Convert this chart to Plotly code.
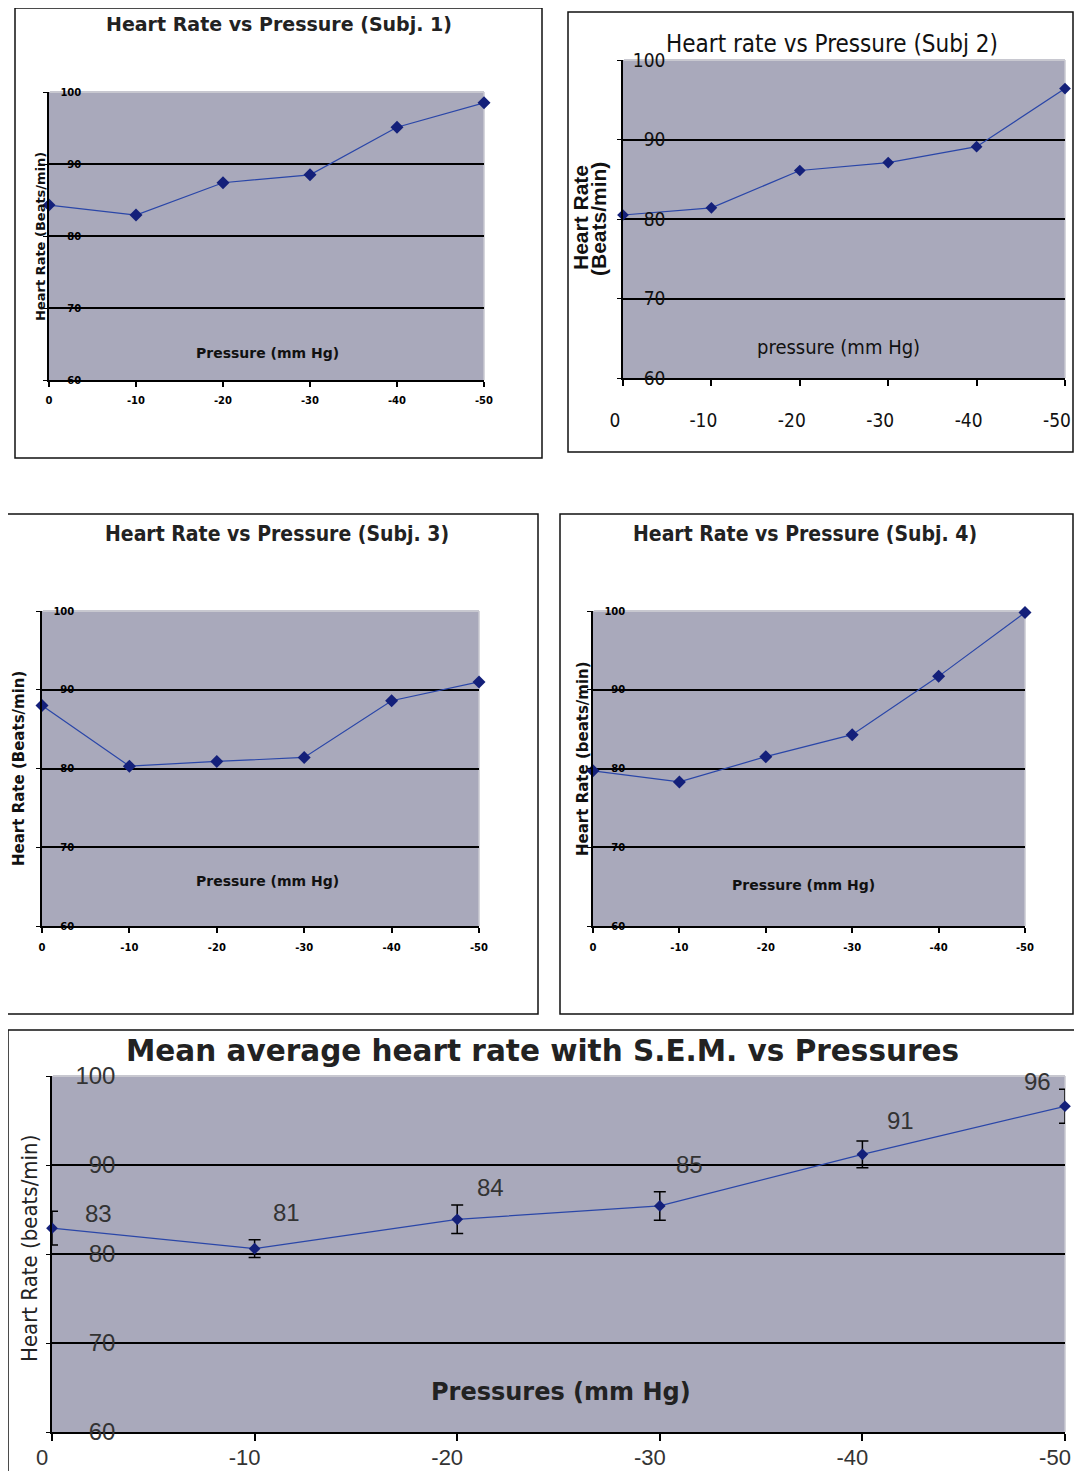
import plotly.graph_objects as go

# ---------------- data ----------------
pressure = [0, -10, -20, -30, -40, -50]
subj1_hr = [84.3, 82.9, 87.4, 88.5, 95.1, 98.5]
subj2_hr = [80.5, 81.4, 86.1, 87.1, 89.1, 96.4]
subj3_hr = [88.0, 80.3, 80.9, 81.4, 88.6, 91.0]
subj4_hr = [79.7, 78.3, 81.5, 84.3, 91.7, 99.8]
mean_hr = [82.9, 80.6, 83.9, 85.4, 91.2, 96.6]
mean_sem = [1.9, 1.0, 1.6, 1.6, 1.5, 1.9]
mean_labels = ["83", "81", "84", "85", "91", "96"]
y_ticks = [60, 70, 80, 90, 100]
y_tick_labels = ["60", "70", "80", "90", "100"]
x_ticks = [0, -10, -20, -30, -40, -50]
x_tick_labels = ["0", "-10", "-20", "-30", "-40", "-50"]

titles = [
    "Heart Rate vs Pressure (Subj. 1)",
    "Heart rate vs Pressure (Subj 2)",
    "Heart Rate vs Pressure (Subj. 3)",
    "Heart Rate vs Pressure (Subj. 4)",
    "Mean average heart rate with S.E.M. vs Pressures",
]

# ---------------- page geometry ----------------
PAGE_W, PAGE_H = 1082, 1479
BODY = 8  # default body margin of the html page
FW, FH = PAGE_W - BODY, PAGE_H - 2 * BODY


def px(x):
    return (x - BODY) / FW


def py(y):
    return 1 - (y - BODY) / FH


ylab_padded = [s.rjust(3, "\u2007") for s in y_tick_labels]

PLOT_BG = "#a9a9bb"
LINE_C = "#2a46a8"
MARK_C = "#14207a"

BOLD = "DejaVu Sans"
COND = "DejaVu Sans Condensed, Liberation Sans Narrow, Liberation Sans"
ARIAL = "Liberation Sans, Arial"

boxes = [
    (49, 484, 92, 380),
    (623, 1065, 60, 378),
    (42, 479, 611, 926),
    (593, 1025, 611, 926),
    (52, 1065, 1076, 1432),
]
frames = [
    (15, 542, 8, 458),
    (568, 1073, 12, 452),
    (5, 538, 514, 1014),
    (560, 1073, 514, 1014),
    (8, 1095, 1030, 1495),
]

fig = go.Figure()

series = [subj1_hr, subj2_hr, subj3_hr, subj4_hr]
for i, hr in enumerate(series):
    fig.add_trace(go.Scatter(
        x=pressure, y=hr, mode="lines+markers",
        xaxis="x" if i == 0 else f"x{i+1}",
        yaxis="y" if i == 0 else f"y{i+1}",
        line=dict(color=LINE_C, width=1.2),
        marker=dict(symbol="diamond", size=10 if i != 1 else 9, color=MARK_C),
        cliponaxis=False, showlegend=False,
    ))

fig.add_trace(go.Scatter(
    x=pressure, y=mean_hr, mode="lines+markers",
    xaxis="x5", yaxis="y5",
    line=dict(color=LINE_C, width=1.2),
    marker=dict(symbol="diamond", size=9, color=MARK_C),
    error_y=dict(type="data", array=mean_sem, visible=True,
                 color="black", thickness=1.5, width=6),
    cliponaxis=False, showlegend=False,
))

small_tick = dict(family=BOLD, size=10, color="black", weight="bold")
# reversed x axes: a positive ticklabelshift moves labels to the left on screen
axis_styles = [
    dict(xfont=small_tick, yfont=small_tick, xstand=5, ystand=-40, ticklen=5, xshift=0),
    dict(xfont=dict(family=COND, size=19, color="#111"),
         yfont=dict(family=COND, size=19, color="#111"), xstand=18, ystand=-52,
         ticklen=6, xshift=8),
    dict(xfont=small_tick, yfont=small_tick, xstand=6, ystand=-40, ticklen=5, xshift=0),
    dict(xfont=small_tick, yfont=small_tick, xstand=6, ystand=-40, ticklen=5, xshift=0),
    dict(xfont=dict(family=ARIAL, size=22, color="#333"),
         yfont=dict(family=ARIAL, size=24, color="#333"), xstand=-2, ystand=-74,
         ticklen=7, xshift=10),
]

layout = dict(
    width=FW, height=FH, autosize=False,
    margin=dict(l=0, r=0, t=0, b=0, autoexpand=False),
    paper_bgcolor="white",
    plot_bgcolor=PLOT_BG,
    showlegend=False,
)

for i, (b, st) in enumerate(zip(boxes, axis_styles)):
    x0, x1, y0, y1 = b
    sfx = "" if i == 0 else str(i + 1)
    layout["xaxis" + sfx] = dict(
        domain=[px(x0), px(x1)], anchor="y" + sfx,
        range=[0, -50], tickvals=x_ticks, ticktext=x_tick_labels,
        showline=True, linecolor="black", linewidth=1.5,
        ticks="outside", ticklen=st["ticklen"], tickcolor="black", tickwidth=1.5,
        showgrid=False, zeroline=False, tickfont=st["xfont"],
        ticklabelstandoff=st["xstand"], ticklabelshift=st["xshift"],
        ticklabeloverflow="allow", fixedrange=True, automargin=False,
    )
    layout["yaxis" + sfx] = dict(
        domain=[py(y1), py(y0)], anchor="x" + sfx,
        range=[60, 100], tickvals=y_ticks, ticktext=ylab_padded,
        showline=True, linecolor="black", linewidth=1.5,
        ticks="outside", ticklen=4, tickcolor="black", tickwidth=1.2,
        showgrid=True, gridcolor="black", gridwidth=1.5,
        zeroline=False, tickfont=st["yfont"], ticklabelposition="outside",
        ticklabelstandoff=st["ystand"], ticklabeloverflow="allow",
        fixedrange=True, automargin=False,
    )

shapes = []
for (x0, x1, y0, y1) in frames:
    shapes.append(dict(type="rect", xref="paper", yref="paper",
                       x0=px(x0), x1=px(x1), y0=py(y1), y1=py(y0),
                       line=dict(color="#111", width=1.5), layer="below"))
for (x0, x1, y0, y1) in boxes:
    shapes.append(dict(type="line", xref="paper", yref="paper",
                       x0=px(x0 + 1), x1=px(x1), y0=py(y0), y1=py(y0),
                       line=dict(color="#c8c8d0", width=2), layer="between"))
    shapes.append(dict(type="line", xref="paper", yref="paper",
                       x0=px(x1), x1=px(x1), y0=py(y1), y1=py(y0),
                       line=dict(color="#c8c8d0", width=1.5), layer="between"))
layout["shapes"] = shapes

ann = []
title_specs = [
    (279, 24, dict(family=BOLD, size=19, color="#222", weight="bold")),
    (832, 44, dict(family=COND, size=24, color="#111")),
    (277, 534, dict(family=COND, size=21, color="#222", weight="bold")),
    (805, 534, dict(family=COND, size=21, color="#222", weight="bold")),
    (542, 1051, dict(family=BOLD, size=29.5, color="#222", weight="bold")),
]
for t, (x, y, f) in zip(titles, title_specs):
    ann.append(dict(text=t, x=px(x), y=py(y), xref="paper", yref="paper",
                    showarrow=False, font=f, xanchor="center", yanchor="middle"))

ytitle_specs = [
    ("Heart Rate (Beats/min)", 41, 237, dict(family=BOLD, size=13, color="#111", weight="bold")),
    ("Heart Rate", 581, 218, dict(family=ARIAL, size=21, color="#111", weight="bold")),
    ("(Beats/min)", 598, 219, dict(family=ARIAL, size=21, color="#111", weight="bold")),
    ("Heart Rate (Beats/min)", 19, 769, dict(family=BOLD, size=15, color="#111", weight="bold")),
    ("Heart Rate (beats/min)", 583, 759, dict(family=BOLD, size=15, color="#111", weight="bold")),
    ("Heart Rate (beats/min)", 29, 1249, dict(family=COND, size=22, color="#222")),
]
for t, x, y, f in ytitle_specs:
    ann.append(dict(text=t, x=px(x), y=py(y), xref="paper", yref="paper",
                    showarrow=False, textangle=-90, font=f,
                    xanchor="center", yanchor="middle"))

xtitle_specs = [
    ("Pressure (mm Hg)", 267, 353, dict(family=BOLD, size=14, color="#111", weight="bold")),
    ("pressure (mm Hg)", 838, 347, dict(family=COND, size=20, color="#111")),
    ("Pressure (mm Hg)", 267, 881, dict(family=BOLD, size=14, color="#111", weight="bold")),
    ("Pressure (mm Hg)", 803, 885, dict(family=BOLD, size=14, color="#111", weight="bold")),
    ("Pressures (mm Hg)", 561, 1392, dict(family=BOLD, size=24, color="#222", weight="bold")),
]
for t, x, y, f in xtitle_specs:
    ann.append(dict(text=t, x=px(x), y=py(y), xref="paper", yref="paper",
                    showarrow=False, font=f, xanchor="center", yanchor="middle"))

label_shift = [(46, 15), (32, 36), (33, 32), (30, 41), (38, 34), (-28, 25)]
for xv, yv, lab, (dx, dy) in zip(pressure, mean_hr, mean_labels, label_shift):
    ann.append(dict(text=lab, x=xv, y=yv, xref="x5", yref="y5",
                    xshift=dx, yshift=dy, showarrow=False,
                    font=dict(family=ARIAL, size=24, color="#333")))

layout["annotations"] = ann
fig.update_layout(**layout)
fig.write_html("out.html")
